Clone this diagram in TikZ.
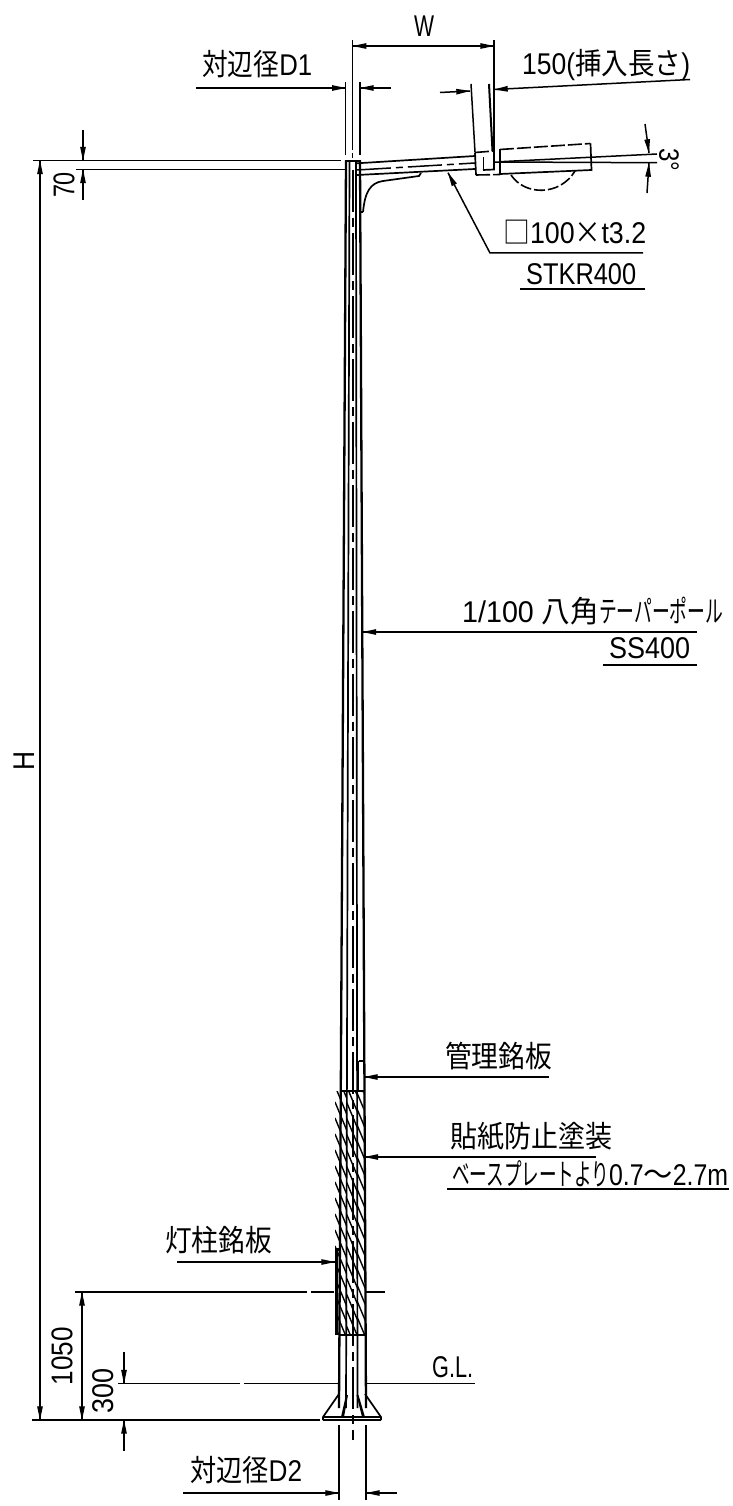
\documentclass[tikz,border=0pt]{standalone}
\usepackage{fontspec}
\usepackage{graphicx}
\usetikzlibrary{calc}
\setmainfont{Liberation Sans}
\newfontfamily\jp{Noto Sans CJK JP}
\newcommand{\fitw}[2]{\resizebox{#1pt}{\height}{#2}}
\newcommand{\headat}[2]{\fill[black] (#2) -- ($(#2)!14pt!12:(#1)$) -- ($(#2)!14pt!-12:(#1)$) -- cycle;}
\newcommand{\arr}[2]{\draw[dimline] (#1) -- (#2);\headat{#1}{#2}}
\newcommand{\arrb}[2]{\draw[dimline] (#1) -- (#2);\headat{#1}{#2}\headat{#2}{#1}}
\tikzset{
  x=1pt,y=-1pt,
  ln/.style={line width=1.7pt,black},
  thin ln/.style={line width=1.5pt,black},
  thick ln/.style={line width=2.3pt,black},
  dimline/.style={line width=1.5pt,black},
  center ln/.style={line width=1.8pt,black,dash pattern=on 42pt off 6pt on 9pt off 6pt},
  dash ln/.style={line width=1.6pt,black,dash pattern=on 14pt off 3pt},
  hatch/.style={line width=1.4pt,black},
  lbl/.style={anchor=base west,inner sep=0,font=\fontsize{30}{32}\selectfont},
  vlbl/.style={rotate=90,inner sep=0,font=\fontsize{30}{32}\selectfont},
}
\begin{document}
\begin{tikzpicture}
\useasboundingbox (0,0) rectangle (732,1506);
\fill[white] (0,0) rectangle (732,1506);

% named anchor coordinates
\coordinate (polaTL) at (346,160.5);
\coordinate (poleTR) at (360,160.5);
\coordinate (poleBL) at (339,1408);
\coordinate (poleBR) at (366,1408);
\coordinate (inLT) at (349.5,160.5);
\coordinate (inLB) at (346,1408);
\coordinate (inRT) at (356,160.5);
\coordinate (inRB) at (357.5,1408);

% pole
\draw[thick ln] (polaTL) -- (poleBL);
\draw[thick ln] (poleTR) -- (poleBR);
\draw[ln] (inLT) -- (inLB);
\draw[ln] (inRT) -- (inRB);
\draw[thick ln] (345,161) -- (361,161);
\draw[center ln] (352.7,170) -- (352.7,1440);
% centre line above the pole
\draw[thin ln] (352.7,40) -- (352.7,150) (352.7,153) -- (352.7,158);

% hatching
\begin{scope}
  \clip (335,1091) -- (340.8,1091) -- (347,1091) -- (347,1335) -- (335,1335) -- cycle;
  \foreach \h in {1070,1086,...,1335} \draw[hatch] (335,\h) -- (350,\h+36);
\end{scope}
\begin{scope}
  \clip (347,1091) -- (357.1,1091) -- (357.4,1335) -- (346.2,1335) -- cycle;
  \foreach \h in {1064,1080,...,1335} \draw[hatch] (344,\h) -- (360,\h+38);
\end{scope}
\begin{scope}
  \clip (357.1,1091) -- (363.5,1091) -- (365.6,1335) -- (357.4,1335) -- cycle;
  \foreach \h in {1072,1088,...,1335} \draw[hatch] (355,\h) -- (368,\h+31);
\end{scope}
\draw[thick ln] (340.8,1091) -- (363.5,1091);
\draw[thick ln] (339.4,1335) -- (365.6,1335);

% name plates
\draw[thin ln] (358.5,1061) -- (363.5,1061) (358.5,1061) -- (358.5,1091);
\draw[line width=3pt] (336.5,1335) -- (336.5,1249) -- (340,1249);

% arm
\coordinate (armA) at (357,163.3);
\coordinate (armB) at (475,156);
\coordinate (armC) at (357,175);
\coordinate (armD) at (475,169);
\draw[ln] (armA) -- (armB);
\draw[ln] (armC) -- (armD);
\draw[thin ln,dash pattern=on 34pt off 5pt on 7pt off 5pt] (357,170) -- (475,163);
\draw[ln] (363,212) .. controls (365,192) and (370,183) .. (383,181) -- (419,176) -- (421,173);
\draw[ln] (361,212) -- (363,212);

% socket and lamp
\draw[dash ln] (475,152.5) -- (494,151);
\draw[ln] (475,152.5) -- (476,175);
\draw[ln] (494,151) -- (494,169.5) -- (483,170);
\draw[thin ln] (483.5,157) -- (483.5,169);
\draw[dash ln] (476,175) -- (500,174.5);
\draw[ln] (500,149.5) -- (500,174);
\draw[dash ln] (500,149.5) -- (590.5,143.5);
\draw[ln] (590.5,143.5) -- (591.5,170) -- (500,174);
\draw[dash ln,dash pattern=on 11pt off 3pt] (511,175) .. controls (525,196) and (560,196) .. (575,171);

% 3 degree
\coordinate (angA) at (500,161.7);
\coordinate (angB) at (657,154);
\coordinate (angC) at (494,162);
\coordinate (angD) at (657,162.7);
\draw[thin ln] (angA) -- (angB);
\draw[thin ln] (angC) -- (angD);
\coordinate (angU) at (645,124);
\coordinate (angV) at (649,153);
\coordinate (angW) at (647,193);
\coordinate (angX) at (649,163);
\arr{angU}{angV}
\arr{angW}{angX}
\node[inner sep=0,rotate=-90,font=\fontsize{28}{30}\selectfont] (tDeg) at (669,160) {\fitw{23}{3°}};

% W dimension
\coordinate (wL) at (352.7,46);
\coordinate (wR) at (494,46);
\draw[thin ln] (494,40) -- (494,151);
\arrb{wL}{wR}
\node[lbl] (tW) at (414,37) {\fitw{20}{W}};

% 150
\draw[thin ln] (471,84) -- (475,152);
\draw[line width=2pt] (489,84) -- (492.5,151);
\coordinate (sL) at (440,92.5);
\coordinate (sLe) at (470,91);
\coordinate (sR) at (690,79.5);
\coordinate (sRe) at (494,89.5);
\arr{sL}{sLe}
\arr{sR}{sRe}
\node[lbl] (t150) at (522,75) {\fitw{168}{150({\jp 挿入長さ})}};

% D1
\coordinate (daL) at (196,88);
\coordinate (daLe) at (345.7,88);
\coordinate (daR) at (391,88);
\coordinate (daRe) at (360,88);
\draw[thin ln] (345.7,82) -- (345.7,155) (360,82) -- (360,155);
\arr{daL}{daLe}
\arr{daR}{daRe}
\node[lbl] (tD1) at (202,76) {\fitw{110}{{\jp 対辺径}D1}};

% 70 and H
\draw[ln] (33,160.5) -- (341,160.5);
\draw[ln] (76,169.5) -- (345,169.5);
\coordinate (a70U) at (83,130);
\coordinate (a70Ue) at (83,160.5);
\coordinate (a70D) at (83,200);
\coordinate (a70De) at (83,169.5);
\arr{a70U}{a70Ue}
\arr{a70D}{a70De}
\node[vlbl] (t70) at (64,185) {\fitw{26}{70}};
\coordinate (hT) at (40,160.5);
\coordinate (hB) at (40,1420);
\arrb{hT}{hB}
\node[vlbl] (tH) at (24,761) {\fitw{19}{H}};

% leader for square tube
\coordinate (lsT) at (448,172.7);
\coordinate (lsK) at (490,253);
\coordinate (lsE) at (643,253);
\draw[dimline] (lsT) -- (lsK) -- (lsE);
\headat{lsK}{lsT}
\node[lbl] (tSq) at (503,244) {\fitw{143}{{\jp □}100{\jp ×}t3.2}};
\node[lbl] (tStkr) at (526,284) {\fitw{110}{STKR400}};
\draw[ln] (520,289) -- (645,289);

% pole label
\coordinate (plS) at (697,632);
\coordinate (plE) at (362.5,632);
\arr{plS}{plE}
\node[lbl] (tPole) at (462,622) {\fitw{261}{1/100 {\jp 八角\scalebox{.62}[1]{テーパーポール}}}};
\node[lbl] (tSS) at (609,658) {\fitw{81}{SS400}};
\draw[ln] (603,665) -- (697,665);

% management plate
\coordinate (mpS) at (549,1077);
\coordinate (mpE) at (364,1077);
\arr{mpS}{mpE}
\node[lbl] (tMp) at (445,1067) {\fitw{107}{\jp 管理銘板}};

% coating
\coordinate (cS) at (596,1157);
\coordinate (cE) at (364.5,1157);
\arr{cS}{cE}
\node[lbl] (tC) at (450,1147) {\fitw{162}{\jp 貼紙防止塗装}};
\node[lbl] (tC2) at (452,1185) {\fitw{276}{{\jp \scalebox{.6}[1]{ベースプレートより}}\scalebox{.85}[1]{0.7}{\jp ～}\scalebox{.85}[1]{2.7m}}};
\draw[ln] (447,1189) -- (729,1189);

% pole plate
\coordinate (ppS) at (177,1262);
\coordinate (ppE) at (335,1262);
\arr{ppS}{ppE}
\node[lbl] (tPp) at (165,1251) {\fitw{107}{\jp 灯柱銘板}};

% 1050
\draw[ln] (75,1292) -- (307,1292);
\draw[ln] (311,1292) -- (334,1292);
\draw[ln] (366,1292) -- (385,1292);
\coordinate (a1T) at (82,1292);
\coordinate (a1B) at (82,1420);
\arrb{a1T}{a1B}
\node[vlbl] (t1050) at (62,1356) {\fitw{58}{1050}};

% 300 and G.L.
\draw[ln] (118,1383.5) -- (240,1383.5);
\draw[ln] (244,1383.5) -- (338,1383.5);
\draw[ln] (366,1383.5) -- (475,1383.5);
\coordinate (a3U) at (124,1352);
\coordinate (a3Ue) at (124,1383.5);
\coordinate (a3D) at (124,1451);
\coordinate (a3De) at (124,1420);
\arr{a3U}{a3Ue}
\arr{a3D}{a3De}
\node[vlbl] (t300) at (103,1391) {\fitw{45}{300}};
\node[lbl] (tGL) at (432,1377) {\fitw{41}{G.L.}};
\draw[ln] (32,1420) -- (320,1420);

% base plate
\draw[thick ln] (323,1420) -- (381,1420);
\draw[ln] (323,1417) -- (381,1417);
\draw[ln] (323,1420) -- (323,1417) -- (339,1394);
\draw[ln] (381,1420) -- (381,1417) -- (365,1394);
\fill (346,1395) -- (348,1395) -- (344,1417) -- (341,1417) -- cycle;
\fill (356.5,1395) -- (358.5,1395) -- (365,1417) -- (362,1417) -- cycle;

% D2
\draw[thin ln] (339,1425) -- (339,1500) (366,1425) -- (366,1500);
\coordinate (dbL) at (183,1493);
\coordinate (dbLe) at (339,1493);
\coordinate (dbR) at (397,1493);
\coordinate (dbRe) at (366,1493);
\arr{dbL}{dbLe}
\arr{dbR}{dbRe}
\node[lbl] (tD2) at (190,1481) {\fitw{112}{{\jp 対辺径}D2}};
\end{tikzpicture}
\end{document}
